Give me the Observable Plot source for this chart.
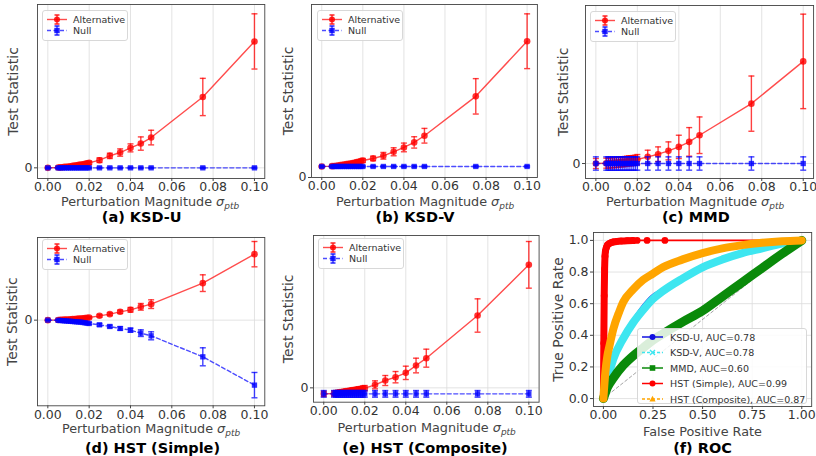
<!DOCTYPE html>
<html><head><meta charset="utf-8">
<script src="https://cdn.jsdelivr.net/npm/d3@7"></script>
<script src="https://cdn.jsdelivr.net/npm/@observablehq/plot@0.6"></script>
<style>
body{margin:0;background:#fff;}
#fig{position:relative;width:816px;height:456px;overflow:hidden;font-family:"DejaVu Sans",sans-serif;}
.panel{position:absolute;}
.xlab{position:absolute;transform:translate(-50%,-50%);font-size:12.8px;color:#444;white-space:nowrap;line-height:1;}
.xlab .sub{font-size:70%;position:relative;top:0.35em;font-style:italic;}
.cap{position:absolute;transform:translate(-50%,-50%);font-weight:bold;font-size:14.5px;color:#000;white-space:nowrap;line-height:1;}
.leg{position:absolute;overflow:visible;}
.leg text{font-family:"DejaVu Sans",sans-serif;font-size:9.5px;fill:#333;}
</style></head><body><div id="fig"></div>
<script>
// ---------- data ----------
const sigma = [0,0.005,0.006,0.007,0.008,0.009,0.010,0.011,0.012,0.013,0.014,0.015,0.016,0.017,0.018,0.019,0.020,0.025,0.030,0.035,0.040,0.045,0.050,0.075,0.100];
const xTicks = [0,0.02,0.04,0.06,0.08,0.10];

// (a) KSD-U
const ksdUAlt    = [0,1,1.5,2,3,3.5,4,5,6,7,8,9,10,11,12,13.5,15,23,36,46,60,73,91,213,380];
const ksdUAltErr = [1,2,2,2,2,2,3,3,3,3,3,4,4,4,4,5,5,7,8,11,12,20,22,56,83];
const ksdUNull   = [0,0,0,0,0,0,0,0,0,0,0,0,0,0,0,0,0,0,0,0,0,0,0,0,0];
const ksdUNullErr= [2,2,2,2,2,2,2,2,2,2,2,2,2,2,2,2,2,2,2,2,2,2,2,2,2];
// (b) KSD-V
const ksdVAlt    = [33,34,34.5,35,36,37,38,39,40,41,42,43,44,46,47,49,51,57,65,77,90,105,125,243,408];
const ksdVAltErr = [2,3,3,3,3,3,3,4,4,4,4,4,5,5,5,5,6,7,10,12,13,17,22,53,82];
const ksdVNull   = [33,33,33,33,33,33,33,33,33,33,33,33,33,33,33,33,33,33,33,33,33,33,33,33,33];
const ksdVNullErr= [2,2,2,2,2,2,2,2,2,2,2,2,2,2,2,2,2,2,2,2,2,2,2,2,2];
// (c) MMD
const mmdAlt     = [0,1,1,2,2,3,3,4,5,5,6,7,8,8,9,10,12,20,28,38,50,65,85,180,307];
const mmdAltErr  = [15,15,15,15,15,15,15,15,15,15,15,15,15,15,15,15,15,20,22,27,35,43,55,83,142];
const mmdNull    = [0,0,0,0,0,0,0,0,0,0,0,0,0,0,0,0,0,0,0,0,0,0,0,0,0];
const mmdNullErr = [20,20,20,20,20,20,20,20,20,20,20,20,20,20,20,20,20,20,20,20,20,20,20,20,20];
// (d) HST (Simple)
const hstSAlt    = [0,0.5,1,1,1.5,2,2,2.5,3,3.5,4,4.5,5,5.5,6,7,8,13,18,25,31,40,48,111,198];
const hstSAltErr = [1,1,1,1,1,1,1,1,2,2,2,2,2,2,2,2,3,4,4,5,7,10,13,25,38];
const hstSNull   = [0,-0.5,-1,-1.5,-2,-2.5,-3,-3.5,-4,-4.5,-5,-5.5,-6,-7,-8,-9,-10,-14,-19,-25,-30,-39,-47,-110,-195];
const hstSNullErr= [1,1,1,1,1,1,1,1,2,2,2,2,2,2,2,2,3,4,4,5,6,10,12,27,38];
// (e) HST (Composite)
const hstCAlt    = [-18,-17,-16,-15,-14,-13,-12,-11,-10,-9,-8,-7,-6,-5,-4,-2,-1,9,22,32,45,67,89,217,369];
const hstCAltErr = [8,8,8,8,8,8,8,8,8,8,8,8,8,8,8,8,8,12,15,17,20,22,27,50,70];
const hstCNull   = [-18,-18,-18,-18,-18,-18,-18,-18,-18,-18,-18,-18,-18,-18,-18,-18,-18,-18,-18,-18,-18,-18,-18,-18,-18];
const hstCNullErr= [10,10,10,10,10,10,10,10,10,10,10,10,10,10,10,10,10,10,10,10,10,10,10,10,10];

// (f) ROC
const rocFpr      = [0,0.02,0.05,0.1,0.15,0.2,0.25,0.3,0.4,0.5,0.6,0.7,0.8,0.9,1];
const ksdUTpr     = [0,0.12,0.25,0.38,0.48,0.57,0.64,0.68,0.76,0.83,0.88,0.92,0.95,0.98,1];
const ksdVTpr     = [0,0.12,0.25,0.38,0.48,0.56,0.63,0.68,0.76,0.83,0.88,0.92,0.95,0.98,1];
const mmdTpr      = [0,0.07,0.13,0.21,0.27,0.32,0.37,0.41,0.485,0.555,0.645,0.735,0.825,0.915,1];
const hstSFpr     = [0,0.002,0.004,0.006,0.008,0.01,0.015,0.02,0.03,0.04,0.05,0.07,0.09,0.12,0.15,0.17,0.22,0.31,1];
const hstSTpr     = [0,0.35,0.65,0.82,0.9,0.93,0.955,0.97,0.98,0.986,0.99,0.994,0.996,0.998,0.999,1,1,1,1];
const hstCFpr     = [0,0.01,0.02,0.03,0.05,0.08,0.1,0.15,0.2,0.25,0.3,0.4,0.5,0.6,0.7,0.8,0.9,1];
const hstCTpr     = [0,0.17,0.27,0.33,0.44,0.55,0.61,0.69,0.75,0.79,0.83,0.88,0.92,0.95,0.97,0.985,0.995,1];
const diag        = [0,1];
const rocXTicks   = [0,0.25,0.5,0.75,1];
const rocYTicks   = [0,0.2,0.4,0.6,0.8,1];
const rocLabels   = ["KSD-U, AUC=0.78","KSD-V, AUC=0.78","MMD, AUC=0.60","HST (Simple), AUC=0.99","HST (Composite), AUC=0.87"];

// ---------- helpers ----------
const fig = document.getElementById("fig");
const capSymbol = {draw(ctx, size){ const r = Math.sqrt(size/Math.PI); ctx.moveTo(-r,0); ctx.lineTo(r,0); }};
const gridStyle = {stroke:"#dcdcdc", strokeOpacity:1, strokeWidth:0.8};

function place(node, left, top){
  node.style.position = "absolute"; node.style.left = left+"px"; node.style.top = top+"px";
  fig.appendChild(node);
}
function addHTML(html){ fig.insertAdjacentHTML("beforeend", html); }

function errMarks(data, yKey, eKey, color){
  const lo = d => d[yKey]-d[eKey], hi = d => d[yKey]+d[eKey];
  return [
    Plot.ruleX(data, {x:"s", y1:lo, y2:hi, stroke:color, strokeOpacity:0.75, strokeWidth:1.4}),
    Plot.dot(data, {x:"s", y:lo, symbol:capSymbol, r:3, stroke:color, strokeOpacity:0.75, strokeWidth:1.4}),
    Plot.dot(data, {x:"s", y:hi, symbol:capSymbol, r:3, stroke:color, strokeOpacity:0.75, strokeWidth:1.4})
  ];
}

function testPanel(p){
  const ML = 37, MT = 8, MR = 4, MB = 22;
  const data = sigma.map((s,i)=>({s, alt:p.alt[i], ae:p.altErr[i], nul:p.nul[i], ne:p.nulErr[i]}));
  const chart = Plot.plot({
    width: ML + (p.R-p.L) + MR, height: MT + (p.B-p.T) + MB,
    marginLeft: ML, marginTop: MT, marginRight: MR, marginBottom: MB,
    x: {domain:[-0.005,0.105]},
    y: {domain:p.domain},
    style: {fontFamily:"DejaVu Sans", fontSize:"12.5px", color:"#333", background:"transparent", overflow:"visible"},
    marks: [
      Plot.gridX({ticks:xTicks, ...gridStyle}),
      Plot.gridY({ticks:[0], ...gridStyle}),
      ...errMarks(data, "alt", "ae", "red"),
      Plot.line(data, {x:"s", y:"alt", stroke:"red", strokeOpacity:0.7, strokeWidth:1.4}),
      Plot.dot(data, {x:"s", y:"alt", r:3.3, fill:"red", fillOpacity:0.8}),
      ...errMarks(data, "nul", "ne", "blue"),
      Plot.line(data, {x:"s", y:"nul", stroke:"blue", strokeOpacity:0.7, strokeWidth:1.4, strokeDasharray:"4,2.5"}),
      Plot.dot(data, {x:"s", y:"nul", symbol:"square", r:3, fill:"blue", fillOpacity:0.8}),
      Plot.frame({stroke:"#444", strokeWidth:0.9}),
      Plot.axisX({ticks:xTicks, tickFormat:d3.format(".2f"), tickSize:3, tickPadding:1, label:null, stroke:"#444"}),
      Plot.axisY({ticks:[0], tickFormat:()=>"0", tickSize:3, tickPadding:2, label:null, stroke:"#444"}),
      Plot.text(["Test Statistic"], {frameAnchor:"left", textAnchor:"middle", dx:p.ylabDx, rotate:-90, fontSize:14, fill:"#444"})
    ]
  });
  place(chart, p.L-ML, p.T-MT);
  addHTML(`<div class="xlab" style="left:${p.xl[0]}px;top:${p.xl[1]}px">Perturbation Magnitude <i>σ</i><span class="sub">ptb</span></div>`);
  addHTML(`<div class="cap" style="left:${p.cap[0]}px;top:${p.cap[1]}px">${p.caption}</div>`);
  const [bx,by] = p.leg;
  addHTML(`<svg class="leg" style="left:${bx}px;top:${by}px" width="90" height="34">
    <rect x="0.5" y="0.5" width="85" height="30" rx="2.5" fill="#fff" fill-opacity="0.85" stroke="#d4d4d4" stroke-width="0.9"/>
    <line x1="5" x2="25" y1="9.5" y2="9.5" stroke="red" stroke-opacity="0.7" stroke-width="1.4"/>
    <line x1="15" x2="15" y1="5" y2="14" stroke="red" stroke-opacity="0.75" stroke-width="1.4"/>
    <line x1="12.5" x2="17.5" y1="5" y2="5" stroke="red" stroke-width="1.3"/><line x1="12.5" x2="17.5" y1="14" y2="14" stroke="red" stroke-width="1.3"/>
    <circle cx="15" cy="9.5" r="3" fill="red" fill-opacity="0.85"/>
    <text x="31" y="9.5" dominant-baseline="central">Alternative</text>
    <line x1="5" x2="25" y1="20.5" y2="20.5" stroke="blue" stroke-opacity="0.7" stroke-width="1.4" stroke-dasharray="4,2.5"/>
    <line x1="15" x2="15" y1="16" y2="25" stroke="blue" stroke-opacity="0.75" stroke-width="1.4"/>
    <line x1="12.5" x2="17.5" y1="16" y2="16" stroke="blue" stroke-width="1.3"/><line x1="12.5" x2="17.5" y1="25" y2="25" stroke="blue" stroke-width="1.3"/>
    <rect x="12.3" y="17.8" width="5.4" height="5.4" fill="blue" fill-opacity="0.85"/>
    <text x="31" y="20.5" dominant-baseline="central">Null</text>
  </svg>`);
}

testPanel({L:37, R:264.3, T:4, B:178, domain:[-32,491], alt:ksdUAlt, altErr:ksdUAltErr, nul:ksdUNull, nulErr:ksdUNullErr,
  ylabDx:-24, xl:[150,202], cap:[141.7,216.5], caption:"(a) KSD-U", leg:[41.7,9.5]});
testPanel({L:311.4, R:537.3, T:4, B:177, domain:[0,518], alt:ksdVAlt, altErr:ksdVAltErr, nul:ksdVNull, nulErr:ksdVNullErr,
  ylabDx:-23, xl:[425,202], cap:[415,216.5], caption:"(b) KSD-V", leg:[316.7,9.5]});
testPanel({L:584.6, R:812.7, T:5, B:178, domain:[-45,475], alt:mmdAlt, altErr:mmdAltErr, nul:mmdNull, nulErr:mmdNullErr,
  ylabDx:-21.6, xl:[695,201.5], cap:[695.8,216.5], caption:"(c) MMD", leg:[590,10.5]});
testPanel({L:37, R:264.3, T:236.7, B:405, domain:[-257,248], alt:hstSAlt, altErr:hstSAltErr, nul:hstSNull, nulErr:hstSNullErr,
  ylabDx:-25, xl:[151,429], cap:[152.5,448], caption:"(d) HST (Simple)", leg:[41.7,239]});
testPanel({L:313, R:538.6, T:235, B:401.7, domain:[-43,457], alt:hstCAlt, altErr:hstCAltErr, nul:hstCNull, nulErr:hstCNullErr,
  ylabDx:-25, xl:[426.7,428], cap:[425,447.5], caption:"(e) HST (Composite)", leg:[318,238.3]});

// ROC panel
(function(){
  const L=593.4, R=811.6, T=232, B=406, ML=45, MT=8, MR=4, MB=22;
  const ksdU = rocFpr.map((x,i)=>({x, y:ksdUTpr[i]}));
  const ksdV = rocFpr.map((x,i)=>({x, y:ksdVTpr[i]}));
  const mmd  = rocFpr.map((x,i)=>({x, y:mmdTpr[i]}));
  const hstS = hstSFpr.map((x,i)=>({x, y:hstSTpr[i]}));
  const hstC = hstCFpr.map((x,i)=>({x, y:hstCTpr[i]}));
  const band = (data, color, w) => Plot.line(data, {x:"x", y:"y", stroke:color, strokeWidth:w, strokeLinecap:"round", strokeLinejoin:"round", curve:"monotone-x"});
  const chart = Plot.plot({
    width: ML+(R-L)+MR, height: MT+(B-T)+MB,
    marginLeft:ML, marginTop:MT, marginRight:MR, marginBottom:MB,
    x:{domain:[-0.05,1.05]}, y:{domain:[-0.05,1.05]},
    style:{fontFamily:"DejaVu Sans", fontSize:"12.5px", color:"#333", background:"transparent", overflow:"visible"},
    marks:[
      Plot.gridX({ticks:rocXTicks, ...gridStyle}),
      Plot.gridY({ticks:rocYTicks, ...gridStyle}),
      Plot.line(diag.map(v=>({x:v,y:v})), {x:"x", y:"y", stroke:"#999", strokeWidth:0.9, strokeDasharray:"3,2.5"}),
      band(ksdU, "#1010e0", 6),
      band(ksdV, "#3ee6f0", 8),
      band(mmd, "#0a8a0a", 9),
      Plot.line(hstS, {x:"x", y:"y", stroke:"red", strokeWidth:1.6, curve:"monotone-x"}),
      Plot.line(hstS, {x:"x", y:"y", stroke:"red", strokeWidth:7, strokeLinecap:"round", curve:"monotone-x", filter:d=>d.x<=0.16}),
      Plot.dot(hstS, {x:"x", y:"y", r:3.4, fill:"red"}),
      band(hstC, "#ffa500", 8),
      Plot.frame({stroke:"#444", strokeWidth:0.9}),
      Plot.axisX({ticks:rocXTicks, tickFormat:d3.format(".2f"), tickSize:3, tickPadding:1, label:null, stroke:"#444"}),
      Plot.axisY({ticks:rocYTicks, tickFormat:d3.format(".1f"), tickSize:3, tickPadding:2, label:null, stroke:"#444"}),
      Plot.text(["True Positive Rate"], {frameAnchor:"left", textAnchor:"middle", dx:-35, rotate:-90, fontSize:14, fill:"#444"})
    ]
  });
  place(chart, L-ML, T-MT);
  addHTML(`<div class="xlab" style="left:702.5px;top:431.7px">False Positive Rate</div>`);
  addHTML(`<div class="cap" style="left:702.5px;top:448px">(f) ROC</div>`);
  const colors = ["#1010e0","#3ee6f0","#0a8a0a","red","#ffa500"];
  const dashes = ["","3,2","","","3,2"];
  const marks = ["circle","x","square","circle","tri"];
  let rows = "";
  rocLabels.forEach((lab,i)=>{
    const y = 9 + i*15.5;
    let m = "";
    if (marks[i]==="circle") m = `<circle cx="15.5" cy="${y}" r="3" fill="${colors[i]}"/>`;
    if (marks[i]==="square") m = `<rect x="12.7" y="${y-2.8}" width="5.6" height="5.6" fill="${colors[i]}"/>`;
    if (marks[i]==="x") m = `<path d="M13 ${y-2.5}L18 ${y+2.5}M13 ${y+2.5}L18 ${y-2.5}" stroke="${colors[i]}" stroke-width="1.4"/>`;
    if (marks[i]==="tri") m = `<path d="M15.5 ${y-3.3}L18.6 ${y+2.4}L12.4 ${y+2.4}Z" fill="${colors[i]}"/>`;
    rows += `<line x1="5" x2="26" y1="${y}" y2="${y}" stroke="${colors[i]}" stroke-width="1.5" ${dashes[i]?`stroke-dasharray="${dashes[i]}"`:""}/>${m}
      <text x="33" y="${y}" dominant-baseline="central">${lab}</text>`;
  });
  addHTML(`<svg class="leg" style="left:637px;top:328px" width="172" height="78">
    <rect x="0.5" y="0.5" width="169" height="75" rx="2.5" fill="#fff" fill-opacity="0.85" stroke="#d4d4d4" stroke-width="0.9"/>${rows}</svg>`);
})();
</script></body></html>
